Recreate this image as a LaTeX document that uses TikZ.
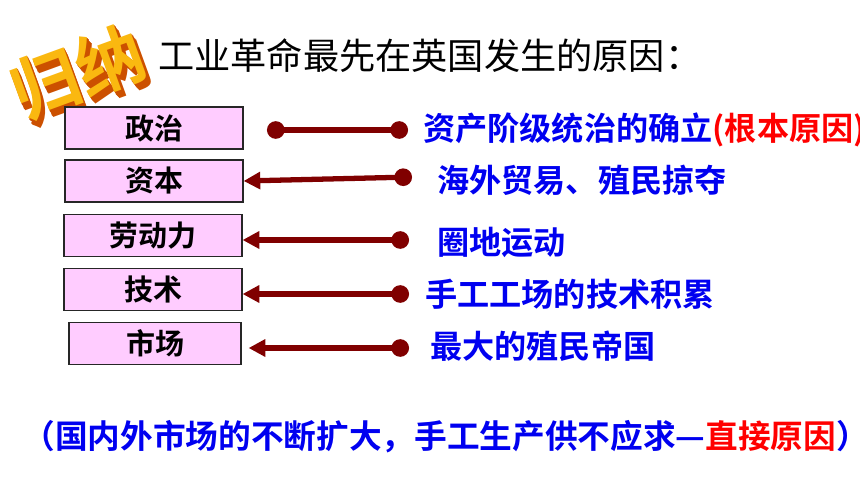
\documentclass[tikz,border=0pt]{standalone}
\usepackage{fontspec}
\usetikzlibrary{arrows.meta,positioning}
\newfontfamily\cjk{Noto Sans CJK SC}[BoldFont={Noto Sans CJK SC Bold}]
\definecolor{boxpink}{HTML}{FFCCFF}
\definecolor{linkred}{HTML}{800000}
\definecolor{txtblue}{HTML}{0000F0}
\definecolor{logofront}{HTML}{FAB810}
\definecolor{logoside}{HTML}{CC5000}
\tikzset{
    enddot/.tip={Circle[length=10pt]},
    endtip/.tip={Triangle[length=9.5pt,width=9.5pt]}}

\begin{document}
\begin{tikzpicture}[x=0.02cm, y=-0.02cm,
    factor/.style={draw=black!85, line width=0.7pt, fill=boxpink,
        minimum width=3.56cm, minimum height=0.84cm, inner sep=0pt,
        font=\cjk\bfseries\fontsize{16.5}{20}\selectfont},
    reason/.style={anchor=west, inner sep=0pt, text=txtblue,
        font=\cjk\bfseries\fontsize{18.3}{22}\selectfont},
    link/.style={draw=linkred, line width=3pt},
    logo/.style={inner sep=0pt, rotate=20, font=\cjk\bfseries\fontsize{39}{42}\selectfont}]
    \useasboundingbox (0,0) rectangle (860,484);

    % logo
    \foreach \k in {6,5,...,1}
        \node[logo, text=logoside] at (78+0.7*\k,72+1.1*\k) {归纳};
    \node[logo, text=logofront] (logo) at (78,72) {归纳};
    \node[anchor=west, inner sep=0pt, font=\cjk\fontsize{20.6}{24}\selectfont]
        (title) at (158,56) {工业革命最先在英国发生的原因：};

    % left boxes
    \node[factor] (zz) at (154,128) {政治};
    \node[factor] (zb) at (154,181) {资本};
    \node[factor] (ldl) at (153,235.5) {劳动力};
    \node[factor] (js) at (153,289.5) {技术};
    \node[factor, minimum width=3.44cm] (sc) at (155,343.5) {市场};

    % right reasons
    \node[reason] (r1) at (423,130) {资产阶级统治的确立\textcolor{red}{(根本原因)}};
    \node[reason] (r2) at (437,180) {海外贸易、殖民掠夺};
    \node[reason] (r3) at (437,242) {圈地运动};
    \node[reason] (r4) at (425,294) {手工工场的技术积累};
    \node[reason] (r5) at (430,346) {最大的殖民帝国};

    % links
    \coordinate (a1) at (267,130);
    \coordinate (b1) at (408,130);
    \coordinate (b2) at (412,177);
    \coordinate (b3) at (409,240);
    \coordinate (b4) at (409,294);
    \coordinate (b5) at (409,348);
    \draw[link, enddot-enddot] (a1) -- (b1);
    \draw[link, endtip-enddot] (zb.east) -- (b2);
    \draw[link, endtip-enddot] (ldl.east |- b3) -- (b3);
    \draw[link, endtip-enddot] (js.east |- b4) -- (b4);
    \draw[link, endtip-enddot] ([xshift=4pt]sc.east |- b5) -- (b5);

    % bottom note
    \node[anchor=west, inner sep=0pt, text=txtblue, font=\cjk\bfseries\fontsize{18.6}{22}\selectfont]
        (note) at (22,437) {（国内外市场的不断扩大，手工生产供不应求—\textcolor{red}{直接原因}）};
\end{tikzpicture}
\end{document}
